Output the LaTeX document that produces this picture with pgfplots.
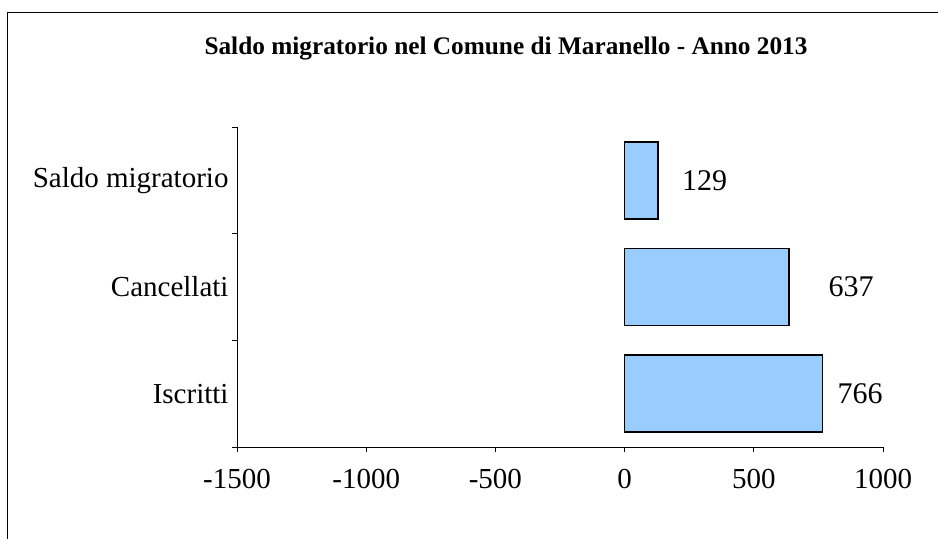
\documentclass[border=0pt]{standalone}
\usepackage{pgfplots}
\pgfplotsset{compat=1.18}
\usepackage{pgfplotstable}
\usepackage{fontspec}
\setmainfont{Liberation Serif}
\definecolor{barblue}{RGB}{153,204,255}
\pgfplotstableread{
y v s
0.5 766 37.6
1.5 637 62
2.5 129 46.7
}\datatab
\begin{document}
\begin{tikzpicture}[x=1bp,y=1bp]
\useasboundingbox (0,0) rectangle (938,539);
\draw[line width=1.3bp] (7.5,0) -- (7.5,526.5) -- (938,526.5);
\node[font=\bfseries\fontsize{25.3bp}{30bp}\selectfont] at (506,490) {Saldo migratorio nel Comune di Maranello - Anno 2013};
\begin{axis}[
  at={(237bp,92bp)}, anchor=south west,
  scale only axis, width=646bp, height=320bp,
  xmin=-1500, xmax=1000, ymin=0, ymax=3,
  axis x line*=bottom, axis y line*=left,
  axis line style={-, line width=0.8bp},
  xtick={-1500,-1000,-500,0,500,1000},
  ytick={0,1,2,3}, yticklabels={},
  extra y ticks={0.5,1.5,2.5},
  extra y tick labels={Iscritti,Cancellati,Saldo migratorio},
  extra y tick style={major tick length=0pt, yticklabel style={xshift=-5bp}},
  tick align=outside, major tick length=5bp,
  tick style={black, line width=0.8bp},
  /pgf/number format/assume math mode=true,
  /pgf/number format/1000 sep={},
  tick label style={font=\fontsize{29bp}{35bp}\selectfont},
  xticklabel style={yshift=-14bp},
  xbar, bar width=77bp,
  point meta=x,
  nodes near coords,
  visualization depends on={\thisrow{s} \as \myshift},
  nodes near coords style={anchor=center, xshift=\myshift*1bp, font=\fontsize{30bp}{36bp}\selectfont},
  clip=false,
]
\addplot[fill=barblue, draw=black, line width=1.7bp] table[x=v, y=y] {\datatab};
\end{axis}
\end{tikzpicture}
\end{document}
